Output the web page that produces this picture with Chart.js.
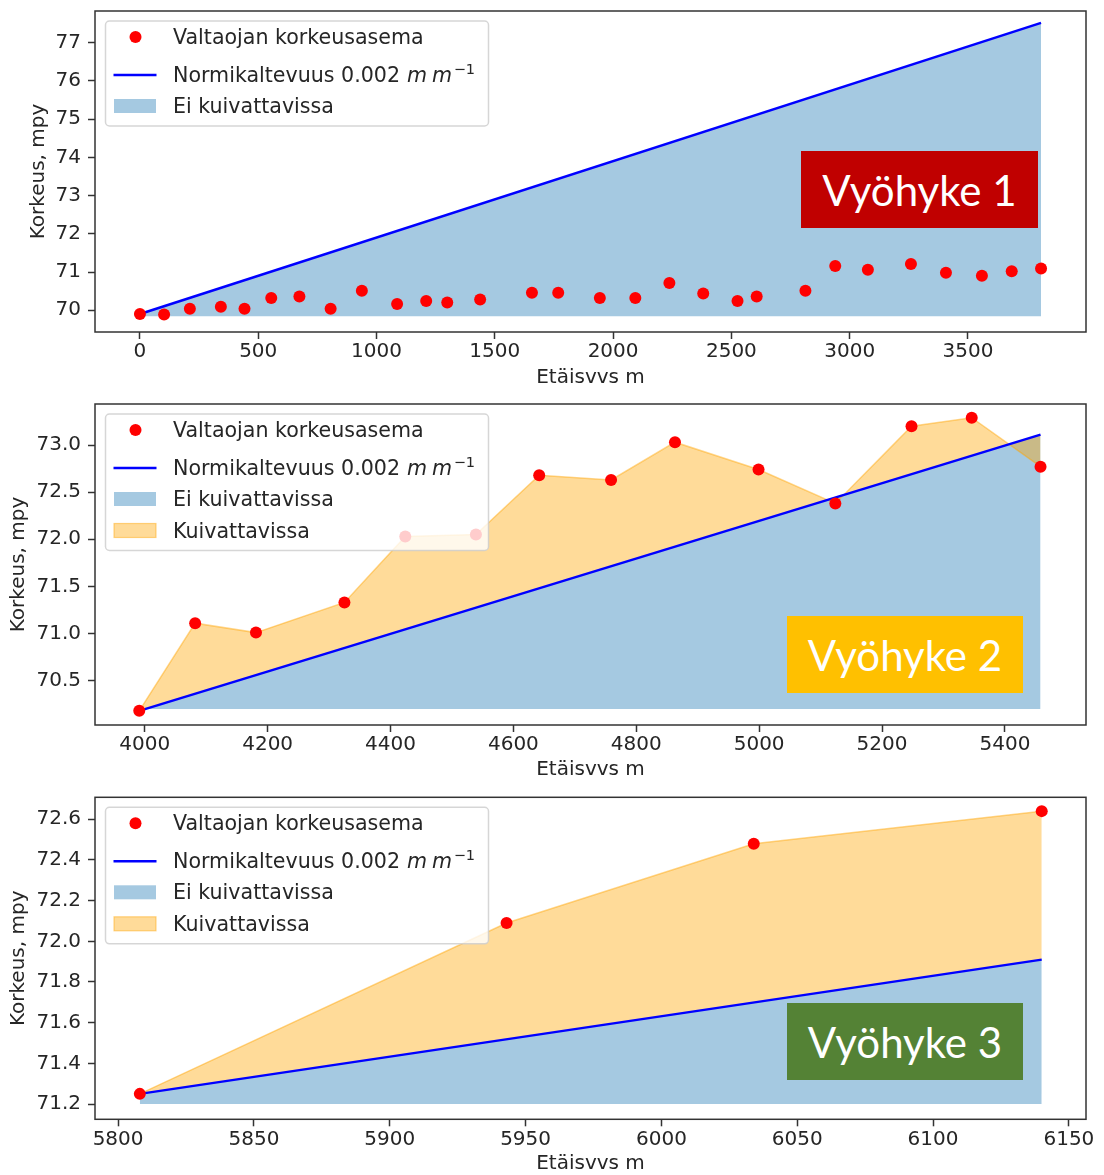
<!DOCTYPE html>
<html lang="fi">
<head>
<meta charset="utf-8">
<title>Valtaojan korkeusasema ja normikaltevuus</title>
<script src="https://cdn.jsdelivr.net/npm/chart.js@4.4.1/dist/chart.umd.min.js"></script>
<style>
  html, body { margin: 0; padding: 0; background: #ffffff; }
  #page { position: relative; width: 1104px; height: 1175px; overflow: hidden; background: #ffffff; }
  #page canvas { position: absolute; left: 0; }
  .zone-tag {
    position: absolute; display: flex; align-items: center; justify-content: center;
    color: #ffffff; font-family: Lato, "Open Sans", sans-serif; font-size: 42px; line-height: 1;
    white-space: nowrap;
  }
</style>
</head>
<body>
<div id="page">
  <canvas id="chartZone1" width="1104" height="390" style="top:0px"></canvas>
  <canvas id="chartZone2" width="1104" height="390" style="top:390px"></canvas>
  <canvas id="chartZone3" width="1104" height="395" style="top:780px"></canvas>
</div>
<script>
// ---- Zone 1: measured ditch bottom elevations (distance m, elevation m a.s.l.)
const zone1Distance  = [0, 102, 211, 342, 442, 555, 674, 806, 938, 1087, 1210, 1299, 1438, 1657, 1768,
                        1944, 2094, 2238, 2381, 2526, 2607, 2813, 2939, 3077, 3259, 3407, 3559, 3685, 3809];
const zone1Elevation = [69.90, 69.89, 70.04, 70.09, 70.04, 70.32, 70.36, 70.04, 70.51, 70.16, 70.24, 70.20, 70.28, 70.46, 70.46,
                        70.32, 70.32, 70.71, 70.44, 70.24, 70.36, 70.51, 71.16, 71.06, 71.21, 70.98, 70.90, 71.02, 71.09];
const zone1NormDistance  = [0, 3809];
const zone1NormElevation = [69.90, 77.52];
const zone1FillBase = 69.84;
const zone1XTicks = [0, 500, 1000, 1500, 2000, 2500, 3000, 3500];
const zone1YTicks = [70, 71, 72, 73, 74, 75, 76, 77];

// ---- Zone 2
const zone2Distance  = [3991, 4082, 4181, 4325, 4424, 4539, 4642, 4759, 4863, 4999, 5124, 5248, 5346, 5458];
const zone2Elevation = [70.18, 71.11, 71.01, 71.33, 72.03, 72.05, 72.68, 72.63, 73.03, 72.74, 72.38, 73.20, 73.29, 72.77];
const zone2NormDistance  = [3991, 5458];
const zone2NormElevation = [70.18, 73.11];
const zone2FillBase = 70.20;
const zone2XTicks = [4000, 4200, 4400, 4600, 4800, 5000, 5200, 5400];
const zone2YTicks = [70.5, 71.0, 71.5, 72.0, 72.5, 73.0];

// ---- Zone 3
const zone3Distance  = [5808, 5943, 6034, 6140];
const zone3Elevation = [71.25, 72.09, 72.48, 72.64];
const zone3NormDistance  = [5808, 6140];
const zone3NormElevation = [71.25, 71.91];
const zone3FillBase = 71.20;
const zone3XTicks = [5800, 5850, 5900, 5950, 6000, 6050, 6100, 6150];
const zone3YTicks = [71.2, 71.4, 71.6, 71.8, 72.0, 72.2, 72.4, 72.6];

// ---- Texts
const legendLabels = ['Valtaojan korkeusasema', 'Normikaltevuus 0.002', 'Ei kuivattavissa', 'Kuivattavissa'];
const slopeUnit = 'm';          // drawn in italics: m m^-1
const slopeExponent = '\u22121';
const xAxisTitle = 'Etäisvvs m';
const yAxisTitle = 'Korkeus, mpy';
const zoneNames = ['Vyöhyke 1', 'Vyöhyke 2', 'Vyöhyke 3'];

// ---- Styles
const RED = '#ff0000';
const BLUE = '#0000ff';
const BLUE_FILL = 'rgba(31,119,180,0.4)';
const ORANGE_FILL = 'rgba(255,165,0,0.4)';
const ORANGE_EDGE = 'rgba(255,165,0,0.45)';
const INK = '#262626';
const FRAME = '#333333';
const zoneColors = ['#c00000', '#ffc000', '#548235'];
const LEGEND_FONT = 20.6;

Chart.defaults.font.family = "'DejaVu Sans', 'Liberation Sans', sans-serif";
Chart.defaults.font.size = 20;
Chart.defaults.color = INK;

// Box around the plotting area
const framePlugin = {
  id: 'axesFrame',
  afterDraw(chart) {
    const a = chart.chartArea, ctx = chart.ctx;
    ctx.save();
    ctx.strokeStyle = FRAME;
    ctx.lineWidth = 1.5;
    ctx.strokeRect(a.left, a.top, a.right - a.left, a.bottom - a.top);
    ctx.restore();
  }
};

// Legend box in the upper left corner of the plotting area
const legendPlugin = {
  id: 'cornerLegend',
  afterDatasetsDraw(chart, args, opts) {
    const items = opts.items || [];
    if (!items.length) return;
    const ctx = chart.ctx, a = chart.chartArea;
    const rows = [16, 54, 85, 116.5];
    const x0 = a.left + 10.5, y0 = a.top + 10;
    const w = 383, h = rows[items.length - 1] + 20;
    ctx.save();
    ctx.beginPath();
    ctx.roundRect(x0, y0, w, h, 4);
    ctx.fillStyle = 'rgba(255,255,255,0.8)';
    ctx.fill();
    ctx.strokeStyle = 'rgba(204,204,204,0.8)';
    ctx.lineWidth = 1.5;
    ctx.stroke();

    items.forEach((item, i) => {
      const cy = y0 + rows[i];
      const ds = chart.data.datasets[item.dataset];
      if (item.kind === 'marker') {
        ctx.beginPath();
        ctx.arc(x0 + 30, cy, 6, 0, Math.PI * 2);
        ctx.fillStyle = ds.pointBackgroundColor;
        ctx.fill();
      } else if (item.kind === 'line') {
        ctx.beginPath();
        ctx.moveTo(x0 + 8, cy);
        ctx.lineTo(x0 + 51, cy);
        ctx.strokeStyle = ds.borderColor;
        ctx.lineWidth = ds.borderWidth;
        ctx.stroke();
      } else {
        ctx.fillStyle = ds.backgroundColor;
        ctx.fillRect(x0 + 8.5, cy - 7, 42, 14);
        if (item.edge) {
          ctx.strokeStyle = ds.borderColor;
          ctx.lineWidth = 1.2;
          ctx.strokeRect(x0 + 8.5, cy - 7, 42, 14);
        }
      }
      let tx = x0 + 67.5;
      const base = cy + 7;
      ctx.fillStyle = INK;
      ctx.textBaseline = 'alphabetic';
      ctx.textAlign = 'left';
      ctx.font = LEGEND_FONT + "px 'DejaVu Sans'";
      ctx.fillText(ds.label, tx, base);
      if (item.slopeUnit) {
        tx += ctx.measureText(ds.label).width + 7;
        ctx.font = "italic " + LEGEND_FONT + "px 'DejaVu Sans'";
        ctx.fillText(slopeUnit, tx, base);
        tx += ctx.measureText(slopeUnit).width + 5;
        ctx.fillText(slopeUnit, tx, base);
        tx += ctx.measureText(slopeUnit).width + 1.5;
        ctx.font = "14.5px 'DejaVu Sans'";
        ctx.fillText(slopeExponent, tx, base - 8);
      }
    });
    ctx.restore();
  }
};

function points(xs, ys) {
  return xs.map((x, i) => ({ x: x, y: ys[i] }));
}

function buildZoneChart(canvasId, zone) {
  const datasets = [
    { // measured elevations
      label: legendLabels[0], data: points(zone.distance, zone.elevation),
      showLine: false, pointRadius: 6, pointHoverRadius: 6, pointBorderWidth: 0,
      pointBackgroundColor: RED, borderColor: RED, backgroundColor: RED, fill: false
    },
    { // design gradient line
      label: legendLabels[1], data: points(zone.normDistance, zone.normElevation),
      borderColor: BLUE, borderWidth: 2.5, pointRadius: 0, fill: false, tension: 0
    }
  ];
  if (zone.drainable) {
    datasets.push({ // area between measured bottom and design line
      label: legendLabels[3], data: points(zone.distance, zone.elevation),
      borderColor: ORANGE_EDGE, borderWidth: 1.5, pointRadius: 0, tension: 0,
      backgroundColor: ORANGE_FILL, fill: 1
    });
  }
  datasets.push({ // area below design line
    label: legendLabels[2], data: points(zone.normDistance, zone.normElevation),
    borderColor: 'rgba(0,0,0,0)', borderWidth: 0, pointRadius: 0, tension: 0,
    backgroundColor: BLUE_FILL, fill: { value: zone.fillBase }
  });
  const blueIndex = datasets.length - 1;

  const legendItems = [
    { kind: 'marker', dataset: 0 },
    { kind: 'line', dataset: 1, slopeUnit: true },
    { kind: 'patch', dataset: blueIndex }
  ];
  if (zone.drainable) legendItems.push({ kind: 'patch', dataset: 2, edge: true });

  const L = zone.layout;
  return new Chart(document.getElementById(canvasId), {
    type: 'line',
    data: { datasets: datasets },
    options: {
      responsive: false,
      animation: false,
      devicePixelRatio: 1,
      events: [],
      layout: { padding: { top: L.top, right: 18, left: 0, bottom: 0 } },
      plugins: {
        legend: { display: false },
        tooltip: { enabled: false },
        cornerLegend: { items: legendItems }
      },
      scales: {
        x: {
          type: 'linear', min: zone.xMin, max: zone.xMax,
          border: { display: false },
          grid: { display: true, drawOnChartArea: false, drawTicks: true, tickLength: 7, tickWidth: 1.5, tickColor: FRAME },
          ticks: { padding: 1, maxRotation: 0, autoSkip: false, color: INK, font: { size: 20 },
                   callback: (v) => String(v) },
          title: { display: true, text: xAxisTitle, color: INK, font: { size: 20, lineHeight: 1 },
                   padding: { top: 0, bottom: L.xTitlePad } },
          afterBuildTicks: (s) => { s.ticks = zone.xTicks.map(v => ({ value: v })); },
          afterFit: (s) => { s.height = L.xHeight; s.paddingLeft = 0; s.paddingRight = 0; }
        },
        y: {
          type: 'linear', min: zone.yMin, max: zone.yMax,
          border: { display: false },
          grid: { display: true, drawOnChartArea: false, drawTicks: true, tickLength: 7, tickWidth: 1.5, tickColor: FRAME },
          ticks: { padding: 7, color: INK, font: { size: 20 },
                   callback: (v) => Number(v).toFixed(zone.yDecimals) },
          title: { display: true, text: yAxisTitle, color: INK, font: { size: 20, lineHeight: 1 },
                   padding: { top: L.yTitlePad, bottom: 0 } },
          afterBuildTicks: (s) => { s.ticks = zone.yTicks.map(v => ({ value: v })); },
          afterFit: (s) => { s.width = 95; s.paddingTop = 0; s.paddingBottom = 0; }
        }
      }
    },
    plugins: [framePlugin, legendPlugin]
  });
}

buildZoneChart('chartZone1', {
  distance: zone1Distance, elevation: zone1Elevation,
  normDistance: zone1NormDistance, normElevation: zone1NormElevation,
  fillBase: zone1FillBase, drainable: false,
  xTicks: zone1XTicks, yTicks: zone1YTicks, yDecimals: 0,
  xMin: -190, xMax: 3999, yMin: 69.43, yMax: 77.83,
  layout: { top: 11, xHeight: 58, xTitlePad: 2, yTitlePad: 28.5 }
});

buildZoneChart('chartZone2', {
  distance: zone2Distance, elevation: zone2Elevation,
  normDistance: zone2NormDistance, normElevation: zone2NormElevation,
  fillBase: zone2FillBase, drainable: true,
  xTicks: zone2XTicks, yTicks: zone2YTicks, yDecimals: 1,
  xMin: 3919, xMax: 5532, yMin: 70.03, yMax: 73.435,
  layout: { top: 14, xHeight: 55, xTitlePad: 0.5, yTitlePad: 9 }
});

buildZoneChart('chartZone3', {
  distance: zone3Distance, elevation: zone3Elevation,
  normDistance: zone3NormDistance, normElevation: zone3NormElevation,
  fillBase: zone3FillBase, drainable: true,
  xTicks: zone3XTicks, yTicks: zone3YTicks, yDecimals: 1,
  xMin: 5791.5, xMax: 6156.3, yMin: 71.125, yMax: 72.708,
  layout: { top: 17.3, xHeight: 55.7, xTitlePad: 1, yTitlePad: 9 }
});

// Zone name tags
const zoneTagBoxes = [
  { left: 801, top: 151, width: 237, height: 77 },
  { left: 787, top: 616, width: 236, height: 77 },
  { left: 787, top: 1003, width: 236, height: 77 }
];
const page = document.getElementById('page');
zoneNames.forEach((name, i) => {
  const b = zoneTagBoxes[i];
  const tag = document.createElement('div');
  tag.className = 'zone-tag';
  tag.textContent = name;
  Object.assign(tag.style, {
    left: b.left + 'px', top: b.top + 'px', width: b.width + 'px', height: b.height + 'px',
    background: zoneColors[i]
  });
  page.appendChild(tag);
});
</script>
</body>
</html>
